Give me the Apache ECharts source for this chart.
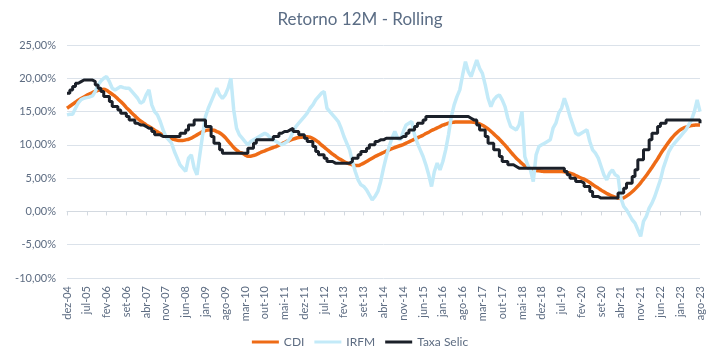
<!DOCTYPE html>
<html>
<head>
<meta charset="utf-8">
<script src="https://cdn.jsdelivr.net/npm/echarts@6/dist/echarts.min.js"></script>
<style>
  html, body { margin: 0; padding: 0; background: #ffffff; }
  #chart { width: 720px; height: 362px; }
</style>
</head>
<body>
<div id="chart"></div>
<script>
// Month names (pt-BR) used to build monthly category labels from dez-04 to ago-23
const monthNames = ['jan','fev','mar','abr','mai','jun','jul','ago','set','out','nov','dez'];
const startMonthIndex = 11; // dez
const startYear = 4;        // 2004
const monthCount = 225;     // dez-04 .. ago-23

const categories = [];
for (let i = 0; i < monthCount; i++) {
  const m = (startMonthIndex + i) % 12;
  const y = startYear + Math.floor((startMonthIndex + i) / 12);
  categories.push(monthNames[m] + '-' + String(y).padStart(2, '0'));
}

// Y axis ticks
const yMin = -10, yMax = 25, yStep = 5;

// CDI 12M rolling return (%), monthly from dez-04
const cdi = [
  15.5,
  15.8, 16.1, 16.4, 16.7, 16.95, 17.2, 17.45, 17.65, 17.85, 18.05, 18.2, 18.3,
  18.35, 18.2, 17.9, 17.6, 17.3, 16.9, 16.5, 16.1, 15.6, 15.2, 14.75, 14.35,
  13.95, 13.6, 13.3, 13.0, 12.75, 12.5, 12.2, 11.95, 11.7, 11.45, 11.25, 11.05,
  10.9, 10.8, 10.7, 10.65, 10.65, 10.75, 10.85, 11.0, 11.25, 11.5, 11.75, 12.0,
  12.15, 12.25, 12.25, 12.2, 12.0, 11.8, 11.5, 11.1, 10.6, 10.1, 9.6, 9.2,
  8.9, 8.75, 8.5, 8.3, 8.3, 8.4, 8.55, 8.75, 8.95, 9.1, 9.3, 9.45,
  9.6, 9.75, 9.95, 10.15, 10.35, 10.55, 10.7, 10.85, 11.0, 11.1, 11.15, 11.2,
  11.2, 11.15, 10.95, 10.7, 10.4, 10.0, 9.65, 9.3, 8.95, 8.6, 8.3, 8.0,
  7.75, 7.5, 7.3, 7.15, 7.0, 6.9, 6.9, 7.05, 7.25, 7.5, 7.75, 8.0,
  8.25, 8.45, 8.65, 8.85, 9.05, 9.25, 9.45, 9.6, 9.75, 9.9, 10.05, 10.25,
  10.45, 10.65, 10.85, 11.05, 11.25, 11.45, 11.7, 11.9, 12.15, 12.35, 12.55, 12.75,
  12.95, 13.1, 13.25, 13.35, 13.4, 13.45, 13.45, 13.45, 13.45, 13.45, 13.45, 13.4,
  13.3, 13.15, 12.95, 12.7, 12.4, 12.05, 11.65, 11.25, 10.85, 10.4, 9.95, 9.45,
  8.95, 8.45, 8.0, 7.6, 7.2, 6.85, 6.6, 6.4, 6.25, 6.15, 6.1, 6.05,
  6.0, 6.0, 6.0, 6.0, 6.0, 6.0, 6.0, 5.95, 5.85, 5.75, 5.6, 5.4,
  5.2, 5.0, 4.85, 4.6, 4.35, 4.05, 3.75, 3.5, 3.2, 2.95, 2.7, 2.5,
  2.3, 2.15, 2.0, 1.95, 2.05, 2.3, 2.6, 2.95, 3.35, 3.8, 4.3, 4.85,
  5.4, 6.0, 6.6, 7.25, 7.9, 8.6, 9.25, 9.85, 10.45, 11.0, 11.5, 11.9,
  12.25, 12.5, 12.65, 12.8, 12.9, 12.95, 13.0, 13.0
];

// IRFM 12M rolling return (%), monthly from dez-04
const irfm = [
  14.5,
  14.6, 14.6, 15.5, 16.3, 16.8, 17.0, 17.1, 17.2, 17.35, 18.0, 19.0, 19.6,
  20.0, 20.25, 19.5, 18.5, 18.25, 18.5, 18.75, 18.6, 18.5, 18.5, 18.0, 17.5,
  17.0, 16.25, 16.5, 17.5, 18.25, 16.0, 15.0, 14.5, 13.5, 12.25, 11.25, 10.75,
  10.25, 9.0, 8.0, 7.0, 6.5, 6.0, 8.0, 8.5, 6.5, 5.5, 8.5, 11.5,
  14.25, 15.5, 16.5, 17.5, 18.5, 17.5, 17.0, 17.5, 18.5, 20.0, 15.25, 12.5,
  11.5, 11.0, 10.5, 10.0, 10.5, 10.75, 11.0, 11.25, 11.5, 11.75, 11.5, 11.0,
  10.75, 10.5, 10.25, 10.0, 10.25, 10.5, 11.0, 12.0, 12.75, 13.25, 13.75, 14.25,
  14.75, 15.5, 16.0, 16.75, 17.25, 17.75, 18.0, 15.5, 15.0, 14.5, 14.0, 13.5,
  12.5, 11.25, 10.25, 9.25, 7.5, 6.0, 4.75, 4.0, 3.75, 3.25, 2.5, 1.75,
  2.25, 3.0, 4.5, 6.5, 8.25, 9.75, 11.0, 12.0, 11.0, 10.75, 12.0, 13.0,
  13.25, 13.5, 11.5, 10.25, 9.25, 8.25, 7.0, 5.5, 3.75, 6.0, 7.25, 6.25,
  7.5, 9.25, 11.5, 14.25, 16.0, 17.25, 18.25, 20.5, 22.5, 21.0, 20.25, 21.5,
  22.75, 21.5, 20.75, 19.0, 17.0, 15.75, 16.75, 17.25, 17.5, 16.75, 15.75, 14.0,
  12.75, 12.5, 12.25, 13.0, 15.0, 8.25, 7.0, 6.25, 4.5, 8.5, 9.75, 10.0,
  10.25, 10.5, 10.75, 12.5, 13.25, 14.75, 15.5, 17.0, 15.75, 14.25, 13.0, 11.75,
  11.5, 11.75, 12.0, 12.25, 10.5, 9.25, 8.75, 8.0, 6.75, 5.5, 4.75, 5.75,
  6.25, 5.5, 5.25, 2.0, 0.75, 0.25, -0.5, -1.25, -1.75, -2.75, -3.75, -1.5,
  -0.75, 0.5, 1.25, 2.25, 3.5, 4.75, 6.5, 7.75, 9.0, 9.75, 10.25, 10.75,
  11.25, 11.75, 12.25, 13.0, 13.75, 15.0, 16.75, 15.0
];

// Taxa Selic (%), monthly from dez-04
const selic = [
  17.75,
  18.25, 18.75, 19.25, 19.5, 19.75, 19.75, 19.75, 19.75, 19.5, 19.0, 18.5, 18.0,
  17.25, 17.25, 16.5, 15.75, 15.75, 15.25, 14.75, 14.75, 14.25, 13.75, 13.75, 13.25,
  13.0, 13.0, 12.75, 12.5, 12.5, 12.0, 11.5, 11.5, 11.25, 11.25, 11.25, 11.25,
  11.25, 11.25, 11.25, 11.75, 11.75, 12.25, 13.0, 13.0, 13.75, 13.75, 13.75, 13.75,
  12.75, 12.75, 11.25, 10.25, 10.25, 9.25, 8.75, 8.75, 8.75, 8.75, 8.75, 8.75,
  8.75, 8.75, 8.75, 9.5, 9.5, 10.25, 10.75, 10.75, 10.75, 10.75, 10.75, 10.75,
  11.25, 11.25, 11.75, 12.0, 12.0, 12.25, 12.5, 12.0, 12.0, 11.5, 11.5, 11.0,
  10.5, 10.5, 9.75, 9.0, 8.5, 8.5, 8.0, 7.5, 7.5, 7.25, 7.25, 7.25,
  7.25, 7.25, 7.25, 7.5, 8.0, 8.0, 8.5, 9.0, 9.0, 9.5, 10.0, 10.0,
  10.5, 10.75, 10.75, 11.0, 11.0, 11.0, 11.0, 11.0, 11.0, 11.25, 11.25, 11.75,
  12.25, 12.25, 12.75, 13.25, 13.25, 13.75, 14.25, 14.25, 14.25, 14.25, 14.25, 14.25,
  14.25, 14.25, 14.25, 14.25, 14.25, 14.25, 14.25, 14.25, 14.25, 14.0, 13.75, 13.75,
  13.0, 12.25, 12.25, 11.25, 10.25, 10.25, 9.25, 9.25, 8.25, 7.5, 7.5, 7.0,
  7.0, 6.75, 6.5, 6.5, 6.5, 6.5, 6.5, 6.5, 6.5, 6.5, 6.5, 6.5,
  6.5, 6.5, 6.5, 6.5, 6.5, 6.5, 6.5, 6.0, 5.5, 5.0, 5.0, 4.5,
  4.5, 4.25, 3.75, 3.75, 3.0, 2.25, 2.25, 2.0, 2.0, 2.0, 2.0, 2.0,
  2.0, 2.0, 2.75, 2.75, 3.5, 4.25, 4.25, 5.25, 6.25, 7.75, 7.75, 9.25,
  9.25, 10.75, 11.75, 11.75, 12.75, 13.25, 13.25, 13.75, 13.75, 13.75, 13.75, 13.75,
  13.75, 13.75, 13.75, 13.75, 13.75, 13.75, 13.75, 13.25
];

const seriesNames = ['CDI', 'IRFM', 'Taxa Selic'];
const titleText = 'Retorno 12M - Rolling';

const textColor = '#5d6c82';
const fontFamily = 'Lato, "Open Sans", sans-serif';

const chart = echarts.init(document.getElementById('chart'), null, { renderer: 'canvas' });

chart.setOption({
  animation: false,
  backgroundColor: '#ffffff',
  title: {
    text: titleText,
    left: 'center',
    top: 6,
    textStyle: { color: '#5b6d85', fontSize: 17, fontWeight: 'normal', fontFamily: fontFamily }
  },
  legend: {
    data: seriesNames,
    left: 'center',
    top: 331,
    icon: 'rect',
    itemWidth: 27,
    itemHeight: 3,
    itemGap: 10,
    textStyle: { color: textColor, fontSize: 12, fontFamily: fontFamily }
  },
  grid: { left: 67, right: 20, top: 45, bottom: 84, containLabel: false },
  xAxis: [
    {
      type: 'category',
      data: categories,
      boundaryGap: false,
      axisLine: { show: true, onZero: true, lineStyle: { color: '#d3d9e0', width: 1 } },
      axisTick: { show: true, interval: 6, length: 4, lineStyle: { color: '#d3d9e0' } },
      axisLabel: { show: false },
      splitLine: { show: false }
    },
    {
      type: 'category',
      data: categories,
      boundaryGap: false,
      position: 'bottom',
      axisLine: { show: false, onZero: false },
      axisTick: { show: false },
      axisLabel: {
        show: true,
        interval: 6,
        rotate: 90,
        margin: 8,
        color: textColor,
        fontSize: 11,
        fontFamily: fontFamily
      },
      splitLine: { show: false }
    }
  ],
  yAxis: {
    type: 'value',
    min: yMin,
    max: yMax,
    interval: yStep,
    axisLine: { show: false },
    axisTick: { show: false },
    axisLabel: {
      color: textColor,
      fontSize: 11,
      fontFamily: fontFamily,
      margin: 11,
      formatter: v => v.toFixed(2).replace('.', ',') + '%'
    },
    splitLine: { show: true, lineStyle: { color: '#dbe2ea', width: 1 } }
  },
  series: [
    {
      name: seriesNames[0],
      type: 'line',
      xAxisIndex: 0,
      data: cdi,
      showSymbol: false,
      symbol: 'none',
      smooth: 0.3,
      lineStyle: { color: '#ee6b16', width: 3.5 },
      itemStyle: { color: '#ee6b16' }
    },
    {
      name: seriesNames[1],
      type: 'line',
      xAxisIndex: 0,
      data: irfm,
      showSymbol: false,
      symbol: 'none',
      lineStyle: { color: '#c3eaf8', width: 3.5 },
      itemStyle: { color: '#c3eaf8' }
    },
    {
      name: seriesNames[2],
      type: 'line',
      xAxisIndex: 0,
      data: selic,
      showSymbol: false,
      symbol: 'none',
      step: 'end',
      lineStyle: { color: '#1b2029', width: 3 },
      itemStyle: { color: '#1b2029' }
    }
  ]
});
</script>
</body>
</html>
